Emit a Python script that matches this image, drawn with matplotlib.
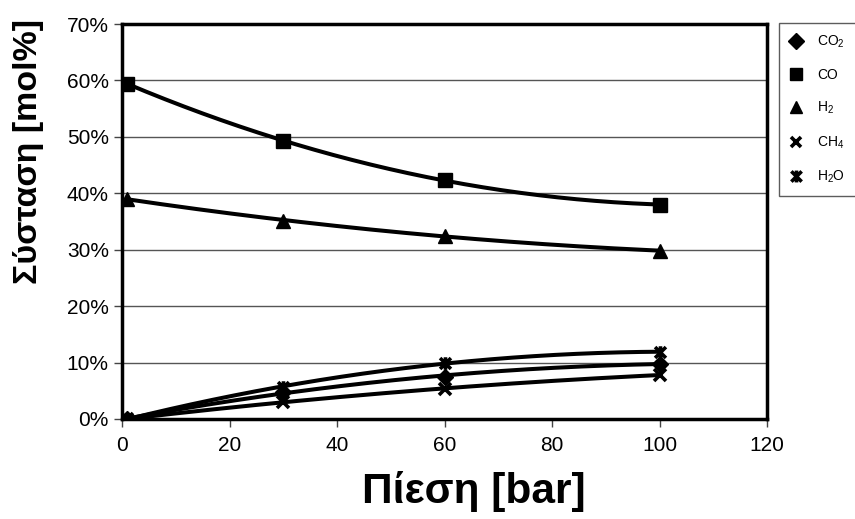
import numpy as np
import matplotlib
matplotlib.use("Agg")
import matplotlib.pyplot as plt
from matplotlib.path import Path
from matplotlib.ticker import FuncFormatter

plt.rcParams['font.family'] = ['Liberation Sans', 'DejaVu Sans']
plt.rcParams['mathtext.default'] = 'regular'

pressure = [1, 30, 60, 100]
co2 = [0.0, 4.8, 7.5, 9.8]
co = [59.4, 49.3, 42.3, 38.0]
h2 = [39.0, 35.1, 32.5, 29.8]
ch4 = [0.0, 3.0, 5.4, 7.8]
h2o = [0.0, 5.7, 9.9, 11.9]
labels = ['CO$_2$', 'CO', 'H$_2$', 'CH$_4$', 'H$_2$O']
x_ticks = [0, 20, 40, 60, 80, 100, 120]
y_ticks = [0, 10, 20, 30, 40, 50, 60, 70]

star = Path([(-1, -1), (1, 1), (-1, 1), (1, -1), (0, -1.15), (0, 1.15)],
            [Path.MOVETO, Path.LINETO, Path.MOVETO, Path.LINETO, Path.MOVETO, Path.LINETO])
markers = ['D', 's', '^', 'x', star]
sizes = [8.5, 9.5, 9.5, 8, 9]
series = [co2, co, h2, ch4, h2o]

fig = plt.figure(figsize=(8.55, 5.19), dpi=100)
ax = fig.add_axes([122/855, 1 - 419/519, (767-122)/855, (419-24)/519])

xs = np.linspace(1, 100, 200)
for vals, m, ms, lab in zip(series, markers, sizes, labels):
    coef = np.polyfit(pressure, vals, 2)
    ax.plot(xs, np.polyval(coef, xs), color='black', lw=2.9, zorder=3)
    thick = (m == 'x') or (m is star)
    ax.plot(pressure, vals, linestyle='none', marker=m, color='black',
            markersize=ms, markeredgewidth=2.6 if thick else 1,
            label=lab, zorder=4)

ax.set_xlim(0, 120)
ax.set_ylim(0, 70)
ax.set_xticks(x_ticks)
ax.set_yticks(y_ticks)
ax.yaxis.set_major_formatter(FuncFormatter(lambda v, p: f"{int(v)}%"))
ax.grid(axis='y', color='#555555', lw=1.0, zorder=1)
for s in ax.spines.values():
    s.set_linewidth(2.5)
    s.set_color('black')
ax.tick_params(axis='both', labelsize=15, length=6, width=1, direction='out', color='#444444')
ax.tick_params(axis='x', pad=6)

fig.text(474/855, 1 - 491/519, 'Πίεση [bar]', fontsize=30.5, fontweight='bold',
         ha='center', va='center')
fig.text(28/855, 1 - 152/519, 'Σύσταση [mol%]', fontsize=24.5, fontweight='bold',
         ha='center', va='center', rotation=90)

leg = fig.legend(loc='upper left', bbox_to_anchor=(779/855, 1 - 23/519),
                 frameon=True, fancybox=False, fontsize=10, labelspacing=1.3,
                 handlelength=1.0, handletextpad=1.0, borderpad=0.75,
                 borderaxespad=0, markerscale=0.95)
leg.get_frame().set_edgecolor('#333333')
leg.get_frame().set_linewidth(1.0)

fig.savefig('out.png', dpi=100)
